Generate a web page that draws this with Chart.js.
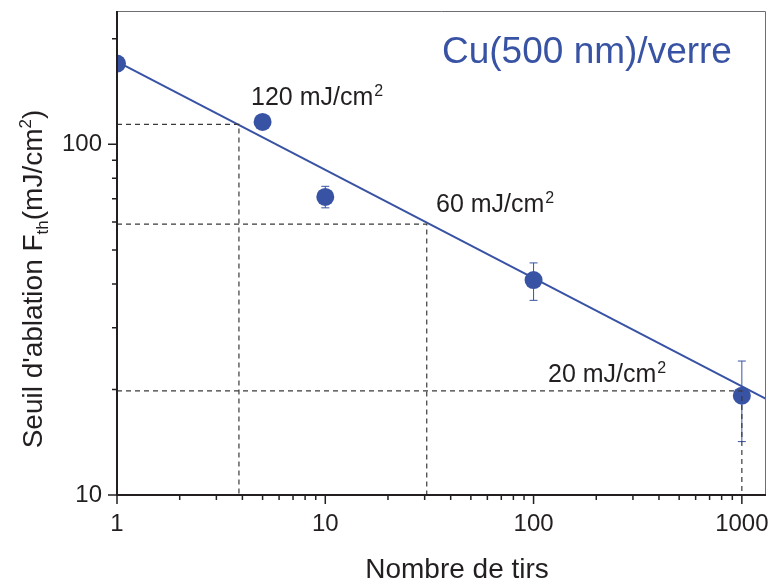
<!DOCTYPE html>
<html>
<head>
<meta charset="utf-8">
<script src="https://cdn.jsdelivr.net/npm/chart.js@4.4.1/dist/chart.umd.min.js"></script>
<style>
  html, body { margin: 0; padding: 0; background: #fff; }
  #wrap { width: 770px; height: 582px; }
</style>
</head>
<body>
<div id="wrap"><canvas id="chart" width="770" height="582"></canvas></div>
<script>
// measured ablation threshold vs number of shots
const shots = [1, 5, 10, 100, 1000];
const threshold = [170, 115.8, 70.8, 41.0, 19.2];
const errHigh = [null, null, 75.9, 45.9, 24.1];
const errLow = [null, null, 65.9, 35.9, 14.2];

// power-law fit (straight line in log-log)
const fitX = [1, 1306];
const fitY = [172, 18.8];

// dashed guides: read-off at the fit line
const guideX = [3.85, 30.7, 1000];
const guideY = [114, 59.2, 19.8];
const guideText = ["120 mJ/cm", "60 mJ/cm", "20 mJ/cm"];

const xTickLabels = [1, 10, 100, 1000];
const yTickLabels = [10, 100];

const BLUE = "#3953a4";
const INK = "#231f20";
const FONT = "'Liberation Sans', Arial, sans-serif";

function logTicks(lo, hi) {
    const out = [];
    for (let d = lo; d <= hi; d *= 10) {
        for (let k = 1; k < 10; k++) {
            const v = d * k;
            if (v <= hi) out.push({ value: v, major: k === 1 });
        }
    }
    return out;
}

function supText(ctx, x, y, base, sup, size) {
    ctx.font = size + "px " + FONT;
    ctx.fillText(base, x, y);
    const w = ctx.measureText(base).width;
    ctx.font = Math.round(size * 0.64) + "px " + FONT;
    ctx.fillText(sup, x + w + 1, y - size * 0.38);
}

const decor = {
    id: "decor",
    beforeDatasetsDraw(chart) {
        const { ctx, scales: { x, y } } = chart;
        ctx.save();
        ctx.strokeStyle = BLUE;
        ctx.lineWidth = 1;
        shots.forEach((s, i) => {
            if (errHigh[i] == null) return;
            const px = x.getPixelForValue(s);
            const top = y.getPixelForValue(errHigh[i]);
            const bot = y.getPixelForValue(errLow[i]);
            ctx.beginPath();
            ctx.moveTo(px, top); ctx.lineTo(px, bot);
            ctx.moveTo(px - 4, top); ctx.lineTo(px + 4, top);
            ctx.moveTo(px - 4, bot); ctx.lineTo(px + 4, bot);
            ctx.stroke();
        });
        ctx.restore();
    },
    afterDraw(chart) {
        const { ctx, chartArea: a, scales: { x, y } } = chart;
        ctx.save();

        // thin frame top/right
        ctx.strokeStyle = "#6d6e71";
        ctx.lineWidth = 1;
        ctx.beginPath();
        ctx.moveTo(a.left, a.top + 0.5); ctx.lineTo(a.right - 0.5, a.top + 0.5);
        ctx.lineTo(a.right - 0.5, a.bottom);
        ctx.stroke();

        // axes
        ctx.strokeStyle = INK;
        ctx.lineWidth = 2;
        ctx.beginPath();
        ctx.moveTo(a.left, a.top); ctx.lineTo(a.left, a.bottom);
        ctx.lineTo(a.right, a.bottom);
        ctx.stroke();

        // tick marks, outward
        ctx.lineWidth = 1.5;
        ctx.beginPath();
        x.ticks.forEach(t => {
            const px = x.getPixelForValue(t.value);
            ctx.moveTo(px, a.bottom); ctx.lineTo(px, a.bottom + (t.major ? 9 : 5));
        });
        y.ticks.forEach(t => {
            const py = y.getPixelForValue(t.value);
            ctx.moveTo(a.left, py); ctx.lineTo(a.left - (t.major ? 9 : 5), py);
        });
        ctx.stroke();

        // annotations
        ctx.fillStyle = INK;
        ctx.textBaseline = "alphabetic";
        ctx.textAlign = "left";
        supText(ctx, 251, 105, guideText[0], "2", 25);
        supText(ctx, 436, 212, guideText[1], "2", 25);
        supText(ctx, 548, 382, guideText[2], "2", 25);

        ctx.fillStyle = BLUE;
        ctx.font = "37px " + FONT;
        ctx.fillText("Cu(500 nm)/verre", 442, 63);

        // x title
        ctx.fillStyle = INK;
        ctx.font = "28px " + FONT;
        ctx.textAlign = "center";
        ctx.fillText("Nombre de tirs", 457, 578);

        // y title with subscript/superscript
        ctx.textAlign = "left";
        ctx.translate(42, 279);
        ctx.rotate(-Math.PI / 2);
        const parts = [
            { t: "Seuil d'ablation F", s: 28, dy: 0 },
            { t: "th", s: 17, dy: 6 },
            { t: "(mJ/cm", s: 28, dy: 0 },
            { t: "2", s: 17, dy: -11 },
            { t: ")", s: 28, dy: 0 }
        ];
        let total = 0;
        parts.forEach(p => { ctx.font = p.s + "px " + FONT; p.w = ctx.measureText(p.t).width; total += p.w; });
        let cx = -total / 2;
        parts.forEach(p => {
            ctx.font = p.s + "px " + FONT;
            ctx.fillText(p.t, cx, p.dy);
            cx += p.w;
        });
        ctx.restore();
    }
};

const guideData = i => [
    { x: 1, y: guideY[i] },
    { x: guideX[i], y: guideY[i] },
    { x: guideX[i], y: 10 }
];

const guideStyle = {
    type: "line",
    borderColor: "#3a3a3a",
    borderWidth: 1.2,
    borderDash: [5, 4],
    pointRadius: 0,
    fill: false,
    tension: 0,
    order: 0
};

new Chart(document.getElementById("chart"), {
    type: "scatter",
    data: {
        datasets: [
            { ...guideStyle, data: guideData(0) },
            { ...guideStyle, data: guideData(1) },
            { ...guideStyle, data: guideData(2) },
            {
                label: "Seuil",
                data: shots.map((s, i) => ({ x: s, y: threshold[i] })),
                backgroundColor: BLUE,
                borderColor: BLUE,
                pointRadius: 9,
                pointBorderWidth: 0,
                order: 1
            },
            {
                type: "line",
                label: "Fit",
                data: fitX.map((v, i) => ({ x: v, y: fitY[i] })),
                borderColor: BLUE,
                borderWidth: 2,
                pointRadius: 0,
                fill: false,
                order: 2
            }
        ]
    },
    options: {
        responsive: false,
        devicePixelRatio: 1,
        animation: false,
        layout: { autoPadding: false, padding: { top: 11, right: 4, left: 0, bottom: 0 } },
        plugins: { legend: { display: false }, tooltip: { enabled: false } },
        scales: {
            x: {
                type: "logarithmic",
                min: 1,
                max: 1306,
                afterBuildTicks: s => { s.ticks = logTicks(1, 1000); },
                afterFit: s => { s.height = 87; s.paddingLeft = 0; s.paddingRight = 0; },
                grid: { display: false, drawTicks: false },
                border: { display: false },
                ticks: {
                    autoSkip: false,
                    maxRotation: 0,
                    padding: 15,
                    color: INK,
                    font: { family: FONT, size: 24 },
                    callback: v => xTickLabels.includes(v) ? String(v) : ""
                }
            },
            y: {
                type: "logarithmic",
                min: 10,
                max: 240,
                afterBuildTicks: s => { s.ticks = logTicks(10, 240); },
                afterFit: s => { s.width = 117; s.paddingTop = 0; s.paddingBottom = 0; },
                grid: { display: false, drawTicks: false },
                border: { display: false },
                ticks: {
                    autoSkip: false,
                    padding: 15,
                    color: INK,
                    font: { family: FONT, size: 24 },
                    callback: v => yTickLabels.includes(v) ? String(v) : ""
                }
            }
        }
    },
    plugins: [decor]
});
</script>
</body>
</html>
